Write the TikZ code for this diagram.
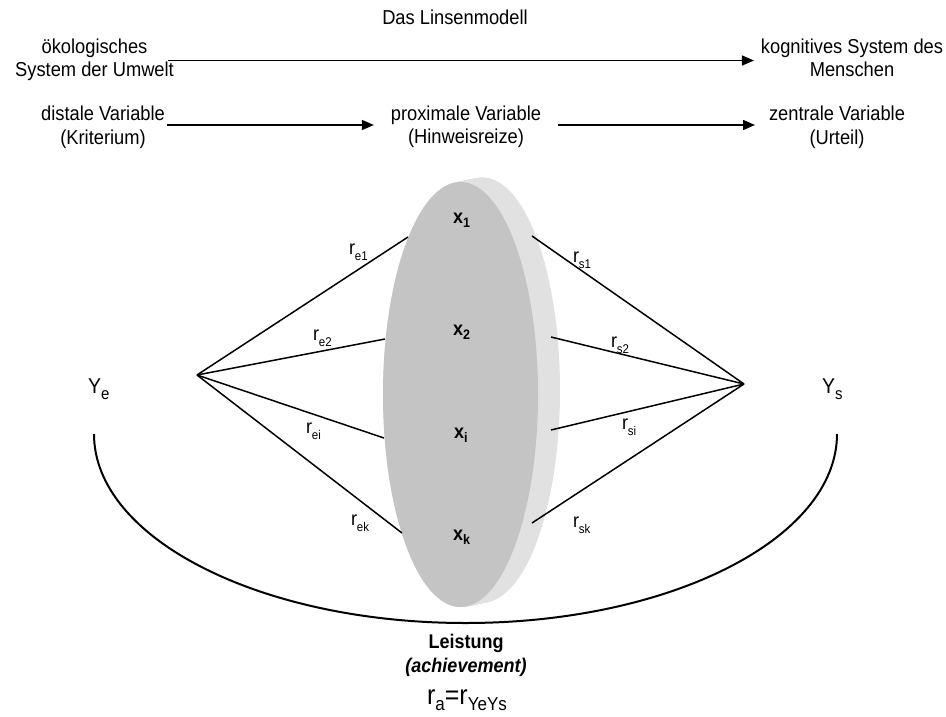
\documentclass[tikz,border=0pt]{standalone}
\usepackage{fontspec}
\setmainfont{Liberation Sans}
\usetikzlibrary{arrows.meta,shapes.geometric}

% text is set slightly taller than wide
\newcommand{\tall}[1]{\scalebox{1}[1.1]{#1}}
\newcommand{\twoline}[2]{\tall{\begin{tabular}{@{}c@{}}#1\\#2\end{tabular}}}
% lowered indices
\newcommand{\lo}[1]{\raisebox{-4.5pt}{\fontsize{12.5}{12.5}\selectfont #1}}
\newcommand{\corrsub}[1]{\raisebox{-5.5pt}{\fontsize{11.5}{11.5}\selectfont #1}}
\newcommand{\loY}[1]{\raisebox{-6pt}{\fontsize{15}{15}\selectfont #1}}
\newcommand{\loR}[1]{\raisebox{-5pt}{\fontsize{17}{17}\selectfont #1}}

\definecolor{lensfront}{RGB}{196,196,196}
\definecolor{lensside}{RGB}{225,225,225}

\begin{document}
\begin{tikzpicture}[x=1pt,y=-1pt,
  every node/.style={inner sep=0pt,outer sep=0pt},
  body/.style={font=\fontsize{18.3}{21.4}\selectfont},
  flow/.style={line width=1.4pt,-{Triangle[length=12pt,width=10pt]}},
  ray/.style={line width=1.5pt},
  corr/.style={font=\fontsize{18}{18}\selectfont,anchor=base west},
  cue/.style={font=\bfseries\fontsize{18}{18}\selectfont,anchor=base west},
  pole/.style={font=\fontsize{19.5}{19.5}\selectfont,anchor=base west}]
\useasboundingbox (0,0) rectangle (946,716);

% headings
\node[body] (title) at (455,17) {\tall{Das Linsenmodell}};
\node[body] (eco)  at (94.5,60.5) {\twoline{ökologisches}{System der Umwelt}};
\node[body] (cog)  at (852,60.5)  {\twoline{kognitives System des}{Menschen}};
\node[body] (dist) at (103,128)   {\twoline{distale Variable}{(Kriterium)}};
\node[body] (prox) at (466,127.5) {\twoline{proximale Variable}{(Hinweisreize)}};
\node[body] (zent) at (837,128)   {\twoline{zentrale Variable}{(Urteil)}};

\coordinate (row2) at (0,125);
\draw[flow,shorten <=-6pt,shorten >=7pt] (eco.east) -- (cog.west);
\draw[flow,shorten <=2pt,shorten >=17pt] (dist.east |- row2) -- (prox.west |- row2);
\draw[flow,shorten <=17pt,shorten >=14pt] (prox.east |- row2) -- (zent.west |- row2);

% achievement arc
\coordinate (arcL) at (94,434);
\draw[line width=2pt] (arcL) arc[start angle=180,end angle=360,x radius=371.5pt,y radius=189pt];

% lens: side face swept from the back outline, then the front face
\foreach \t in {0,0.025,...,1.001}{
  \fill[lensside] ({482.5-22*\t},{390+4.5*\t}) ellipse [x radius=77.5pt,y radius=212.5pt];
}
\node[ellipse,fill=lensfront,minimum width=155pt,minimum height=425pt] (lens) at (460.5,394.5) {};

% cues
\node[cue] (x1) at (453,223) {\tall{x\lo{1}}};
\node[cue] (x2) at (453,335) {\tall{x\lo{2}}};
\node[cue] (xi) at (454,438) {\tall{x\lo{i}}};
\node[cue] (xk) at (453,540) {\tall{x\lo{k}}};

% criterion and judgement
\coordinate (Ye) at (197,375);
\coordinate (Ys) at (744,384);
\node[pole] (YeL) at (88,393)  {\tall{Y\loY{e}}};
\node[pole] (YsL) at (822,393) {\tall{Y\loY{s}}};

% ecological validities
\coordinate (e1) at (408,237);
\coordinate (e2) at (385,339);
\coordinate (ei) at (384,438);
\coordinate (ek) at (402,533);
\draw[ray] (Ye) -- (e1);
\draw[ray] (Ye) -- (e2);
\draw[ray] (Ye) -- (ei);
\draw[ray] (Ye) -- (ek);

% cue utilizations
\coordinate (s1) at (532,236);
\coordinate (s2) at (551,337);
\coordinate (si) at (551,430);
\coordinate (sk) at (532,523);
\draw[ray] (s1) -- (Ys);
\draw[ray] (s2) -- (Ys);
\draw[ray] (si) -- (Ys);
\draw[ray] (sk) -- (Ys);

\node[corr] (re1) at (349,254) {\tall{r\corrsub{e1}}};
\node[corr] (re2) at (313,340) {\tall{r\corrsub{e2}}};
\node[corr] (rei) at (306,433) {\tall{r\corrsub{ei}}};
\node[corr] (rek) at (351,525) {\tall{r\corrsub{ek}}};
\node[corr] (rs1) at (573,262) {\tall{r\corrsub{s1}}};
\node[corr] (rs2) at (611,347) {\tall{r\corrsub{s2}}};
\node[corr] (rsi) at (622,429) {\tall{r\corrsub{si}}};
\node[corr] (rsk) at (573,527) {\tall{r\corrsub{sk}}};

% achievement
\node[font=\bfseries\fontsize{18}{18}\selectfont] (leist) at (466,643) {\tall{Leistung}};
\node[font=\bfseries\itshape\fontsize{18}{18}\selectfont] (ach) at (466,667) {\tall{(achievement)}};
\node[font=\fontsize{25}{25}\selectfont] (ra) at (467,700) {\tall{r\loR{a}=r\loR{YeYs}}};
\end{tikzpicture}
\end{document}
